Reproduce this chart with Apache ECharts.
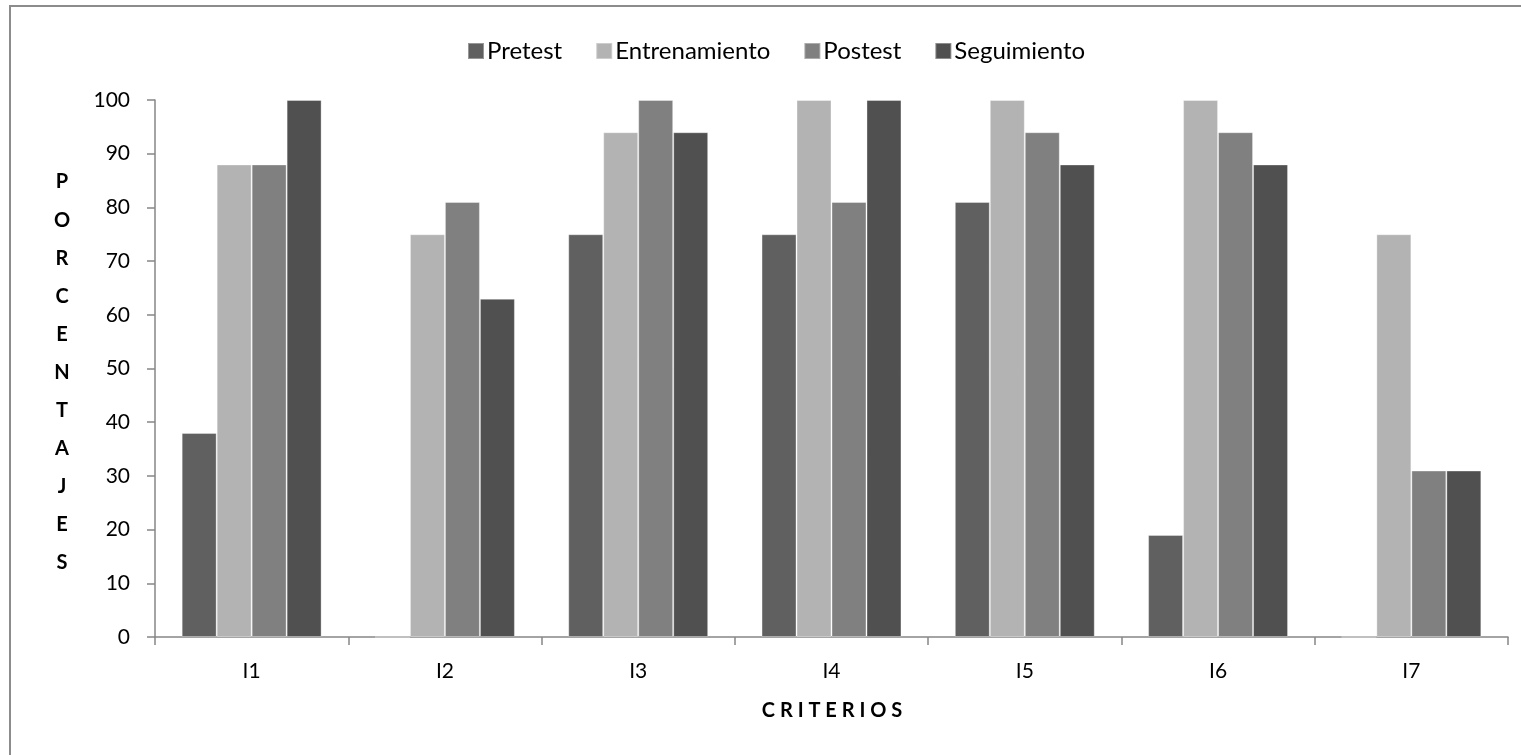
<!DOCTYPE html>
<html>
<head>
<meta charset="utf-8">
<script src="https://cdn.jsdelivr.net/npm/echarts@6/dist/echarts.min.js"></script>
<style>
  html, body { margin: 0; padding: 0; background: #fff; }
  #chart { width: 1521px; height: 755px; }
</style>
</head>
<body>
<div id="chart"></div>
<script>
// Criteria on the horizontal axis
const categories = ['I1', 'I2', 'I3', 'I4', 'I5', 'I6', 'I7'];

// Percentages per phase
const pretest        = [38, 0, 75, 75, 81, 19, 0];
const entrenamiento  = [88, 75, 94, 100, 100, 100, 75];
const postest        = [88, 81, 100, 81, 94, 94, 31];
const seguimiento    = [100, 63, 94, 100, 88, 88, 31];

const seriesNames = ['Pretest', 'Entrenamiento', 'Postest', 'Seguimiento'];
const seriesData = [pretest, entrenamiento, postest, seguimiento];
const seriesColors = ['#606060', '#b3b3b3', '#808080', '#505050'];

const yTitle = 'PORCENTAJES';
const xTitle = 'CRITERIOS';

const FONT = 'Lato, "Open Sans", sans-serif';

const chart = echarts.init(document.getElementById('chart'), null, { renderer: 'canvas' });

chart.setOption({
  animation: false,
  backgroundColor: '#ffffff',
  textStyle: { fontFamily: FONT, color: '#000' },
  legend: {
    top: 34,
    left: 462,
    itemWidth: 16,
    itemHeight: 16,
    itemGap: 33,
    icon: 'rect',
    textStyle: { fontSize: 24, fontFamily: FONT, color: '#000', padding: [0, 0, 0, -2] },
    data: seriesNames
  },
  grid: { left: 155, right: 13, top: 100, bottom: 118, containLabel: false },
  xAxis: {
    type: 'category',
    data: categories,
    axisLine: { lineStyle: { color: '#868686', width: 1.5 } },
    axisTick: { show: true, length: 8, alignWithLabel: false, lineStyle: { color: '#868686', width: 1.5 } },
    axisLabel: { fontSize: 21, fontFamily: FONT, color: '#000', margin: 24 },
    splitLine: { show: false }
  },
  yAxis: {
    type: 'value',
    min: 0,
    max: 100,
    interval: 10,
    axisLine: { show: true, lineStyle: { color: '#868686', width: 1.5 } },
    axisTick: { show: true, length: 8, lineStyle: { color: '#868686', width: 1.5 } },
    axisLabel: { fontSize: 21, fontFamily: FONT, color: '#000', margin: 25 },
    splitLine: { show: false }
  },
  graphic: [
    {
      type: 'rect',
      shape: { x: 10, y: 6, width: 1540, height: 800 },
      style: { fill: 'none', stroke: '#8c8c8c', lineWidth: 2 },
      silent: true,
      z: -1
    },
    {
      type: 'text',
      x: 62,
      y: 372.5,
      style: {
        text: yTitle.split('').join('\n'),
        font: 'bold 20px ' + FONT,
        fill: '#000',
        lineHeight: 38.1,
        align: 'center',
        verticalAlign: 'middle'
      }
    },
    {
      type: 'text',
      x: 832,
      y: 711,
      style: {
        text: xTitle.split('').join(' '),
        font: 'bold 20px ' + FONT,
        fill: '#000',
        letterSpacing: 3,
        align: 'center',
        verticalAlign: 'middle'
      }
    }
  ],
  series: seriesNames.map((name, i) => ({
    name,
    type: 'bar',
    data: seriesData[i],
    barGap: '0%',
    barCategoryGap: '27.6%',
    itemStyle: {
      color: seriesColors[i],
      borderColor: 'rgba(255,255,255,0.35)',
      borderWidth: 1
    }
  }))
});
</script>
</body>
</html>
